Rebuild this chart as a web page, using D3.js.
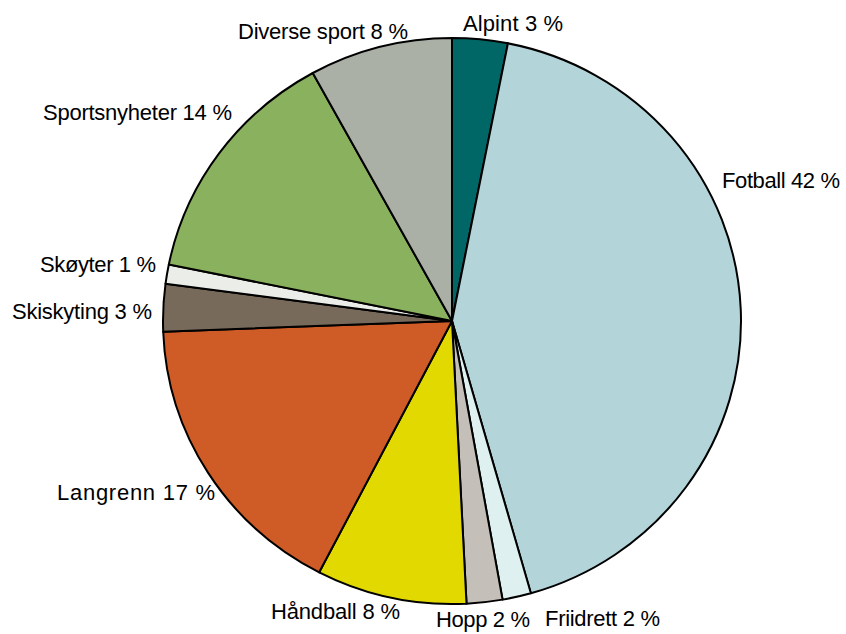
<!DOCTYPE html>
<html><head><meta charset="utf-8">
<script src="https://cdn.jsdelivr.net/npm/d3@7"></script>
<style>html,body{margin:0;padding:0;background:#fff;}svg{display:block;}</style>
</head><body>
<script>
const categories = ["Alpint","Fotball","Friidrett","Hopp","Håndball","Langrenn","Skiskyting","Skøyter","Sportsnyheter","Diverse sport"];
const values = [3.1, 42.5, 1.6, 2.0, 8.4, 16.8, 2.7, 1.1, 13.8, 8.0];
const labels = ["Alpint 3 %","Fotball 42 %","Friidrett 2 %","Hopp 2 %","Håndball 8 %","Langrenn 17 %","Skiskyting 3 %","Skøyter 1 %","Sportsnyheter 14 %","Diverse sport 8 %"];
const colors = ["#006766","#b3d5d9","#dff0f0","#c4bfb8","#e2d900","#cf5c27","#776a5a","#ebeee8","#8ab15e","#abb0a6"];

// label layout (anchor positions and widths)
const labelLayout = [
  {x:463, y:31, a:"start", w:100},
  {x:722, y:188, a:"start", w:118},
  {x:545, y:626, a:"start", w:115},
  {x:436, y:627, a:"start", w:94},
  {x:400, y:619, a:"end", w:129},
  {x:215, y:500, a:"end", w:158},
  {x:152, y:319, a:"end", w:140},
  {x:156, y:272, a:"end", w:116},
  {x:232, y:120, a:"end", w:189},
  {x:408, y:39, a:"end", w:170}
];

const W = 846, H = 634;
const cx = 452, cy = 321, rx = 289, ry = 283;
const svg = d3.select("body").append("svg").attr("width", W).attr("height", H);

const pie = d3.pie().sort(null).value(d => d.v);
const data = pie(categories.map((c,i) => ({c, v: values[i], i})));
const arc = d3.arc().innerRadius(0).outerRadius(rx);

const g = svg.append("g").attr("transform", `translate(${cx},${cy}) scale(1,${ry/rx})`);
g.selectAll("path").data(data).join("path")
  .attr("d", arc)
  .attr("fill", d => colors[d.data.i])
  .attr("stroke", "#000")
  .attr("stroke-width", 2)
  .attr("stroke-linejoin", "round")
  .attr("vector-effect", "non-scaling-stroke");

svg.append("g").selectAll("text").data(labels).join("text")
  .attr("x", (d,i) => labelLayout[i].x)
  .attr("y", (d,i) => labelLayout[i].y)
  .attr("text-anchor", (d,i) => labelLayout[i].a)
  .attr("textLength", (d,i) => labelLayout[i].w)
  .attr("lengthAdjust", "spacing")
  .attr("font-family", "Liberation Sans, Arial, sans-serif")
  .attr("font-size", 22)
  .attr("fill", "#000")
  .text(d => d);
</script>
</body></html>
